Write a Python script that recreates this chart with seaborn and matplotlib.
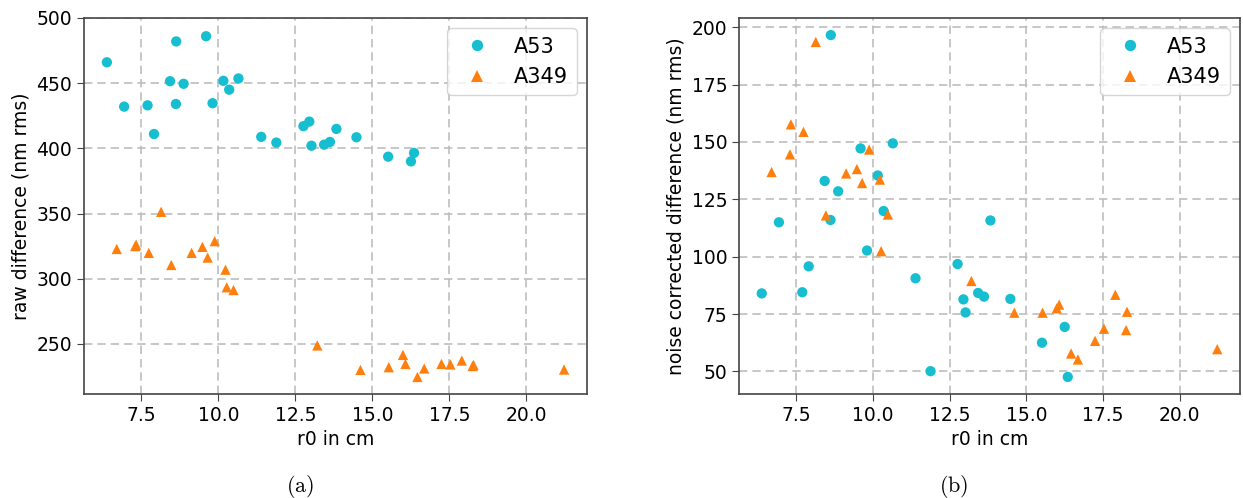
import pandas as pd
import numpy as np
import matplotlib
matplotlib.use("Agg")
import matplotlib.pyplot as plt
import seaborn as sns

# r0 in cm, raw difference and noise corrected difference (nm rms)
a53_r0 = [6.38, 6.94, 7.70, 7.91, 8.43, 8.62, 8.63, 8.87, 9.60, 9.81, 10.16, 10.35, 10.65,
          11.39, 11.88, 12.76, 12.95, 13.02, 13.43, 13.62, 13.83, 14.48, 15.51, 16.25, 16.35]
a53_raw = [466, 432, 433, 411, 451.5, 434, 482, 449.5, 486, 434.6, 451.8, 445, 453.6,
           408.8, 404.4, 417, 420.5, 402, 402.8, 404.9, 414.9, 408.5, 393.6, 390, 396.5]
a53_corr = [84, 115, 84.5, 95.8, 133, 116, 196.6, 128.5, 147.2, 102.7, 135.4, 119.9, 149.4,
            90.6, 50.1, 96.8, 81.4, 75.7, 84.2, 82.6, 115.8, 81.6, 62.5, 69.4, 47.6]

a349_r0 = [6.70, 7.30, 7.33, 7.74, 8.14, 8.47, 9.13, 9.48, 9.65, 9.88, 10.23, 10.27, 10.49,
           13.21, 14.61, 15.53, 15.99, 16.07, 16.46, 16.68, 17.24, 17.53, 17.90, 18.25, 18.28, 21.22]
a349_raw = [322.8, 325, 326, 319.8, 351.3, 310.5, 319.8, 324.4, 316.2, 328.8, 306.9, 293.4, 291.3,
            248.8, 230, 232.1, 241.5, 234.6, 224.6, 231.1, 234.6, 234.2, 237.2, 233, 233.8, 230.3]
a349_corr = [136.9, 144.6, 157.7, 154.4, 193.6, 118, 136.3, 138.2, 132.1, 146.7, 133.6, 102.4, 118.4,
             89.4, 75.6, 75.6, 77.5, 79.1, 57.8, 55.2, 63.3, 68.6, 83.4, 68.0, 76.0, 59.7]

df = pd.concat([
    pd.DataFrame({"r0": a53_r0, "raw": a53_raw, "corr": a53_corr, "set": "A53"}),
    pd.DataFrame({"r0": a349_r0, "raw": a349_raw, "corr": a349_corr, "set": "A349"}),
], ignore_index=True)

sns.set_style("ticks")
plt.rcParams["font.family"] = ["DejaVu Sans"]
plt.rcParams["mathtext.fontset"] = "cm"
plt.rcParams.update({"text.color": "black", "axes.labelcolor": "black",
                     "xtick.labelcolor": "black", "ytick.labelcolor": "black"})

palette = {"A53": "#17becf", "A349": "#ff7f0e"}
markers = {"A53": "o", "A349": "^"}

fig = plt.figure(figsize=(12.43, 4.98), dpi=100)
ax1 = fig.add_axes([0.0676, 0.2088, 0.4046, 0.7551])
ax2 = fig.add_axes([0.5945, 0.2088, 0.4031, 0.7551])

for ax, col, ylab in [(ax1, "raw", "raw difference (nm rms)"),
                      (ax2, "corr", "noise corrected difference (nm rms)")]:
    sns.scatterplot(data=df, x="r0", y=col, hue="set", style="set",
                    palette=palette, markers=markers, s=55, linewidth=0,
                    ax=ax, zorder=3)
    ax.grid(True, linestyle=(0, (5, 3)), color="#bdbdbd", linewidth=1.2, zorder=0)
    ax.set_axisbelow(True)
    ax.set_xlabel("r0 in cm", fontsize=13.5)
    ax.set_ylabel(ylab, fontsize=13.5)
    ax.tick_params(labelsize=13.5, length=5, color="#444444")
    for sp in ax.spines.values():
        sp.set_color("#444444")
        sp.set_linewidth(1.2)
    ax.set_xticks([7.5, 10.0, 12.5, 15.0, 17.5, 20.0])
    handles, labels = ax.get_legend_handles_labels()
    ax.legend(handles, labels, loc="upper right", fontsize=15, frameon=True,
              framealpha=0.8, edgecolor="#cccccc", markerscale=1.1)

ax1.set_yticks([250, 300, 350, 400, 450, 500])
ax2.set_yticks([50, 75, 100, 125, 150, 175, 200])

fig.text(0.2414, 0.024, r"$\mathrm{(a)}$", ha="center", va="center", fontsize=16)
fig.text(0.7675, 0.024, r"$\mathrm{(b)}$", ha="center", va="center", fontsize=16)

fig.savefig("out.png", dpi=100)
